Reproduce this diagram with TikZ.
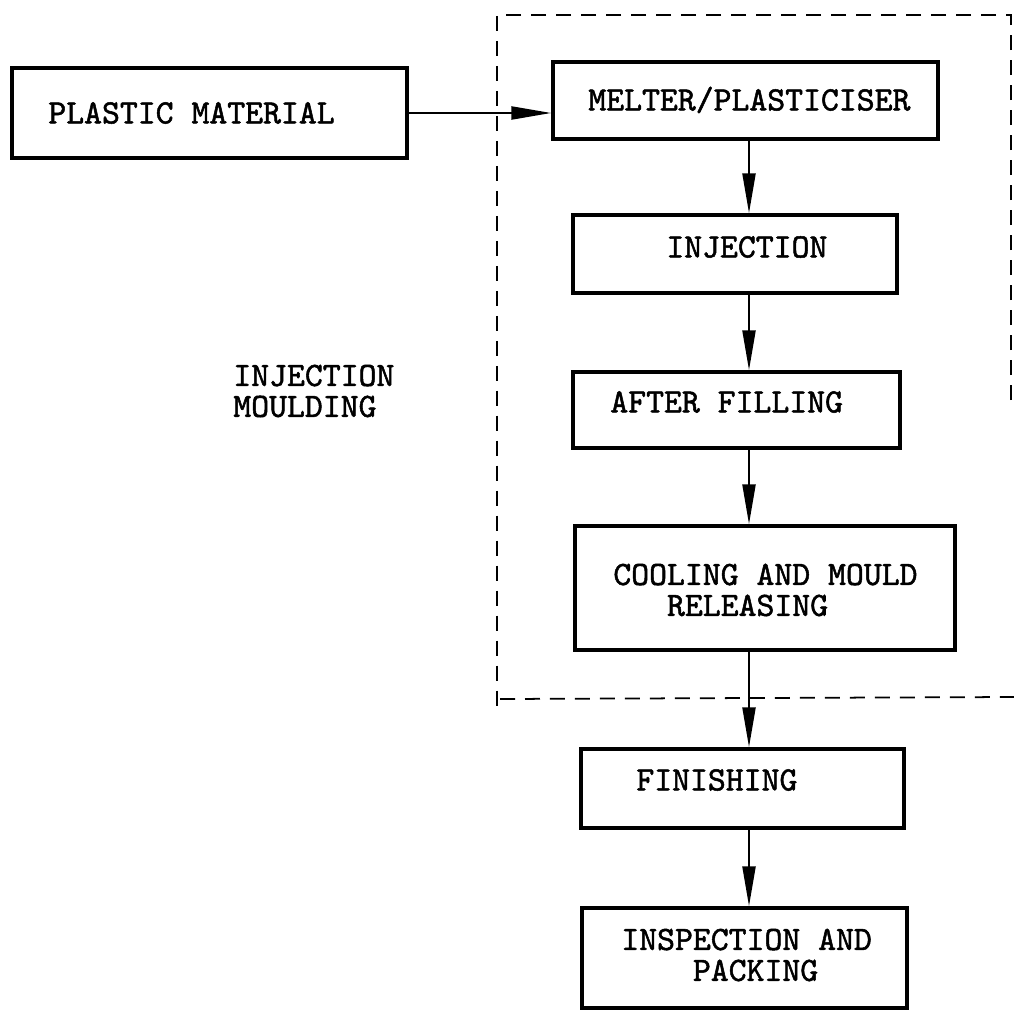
\documentclass[tikz,border=0pt]{standalone}
\usepackage{fontspec}
\setmonofont[FakeBold=1.5]{lmmono10-regular.otf}
\usepackage{tikz}
\usetikzlibrary{arrows.meta}

\begin{document}
\begin{tikzpicture}[x=0.02cm,y=-0.02cm,
		box/.style={draw,line width=2pt,inner sep=0pt},
		txt/.style={anchor=west,align=left,inner sep=0pt,font=\ttfamily\fontsize{19.4}{17.6}\selectfont},
		flow/.style={line width=1.3pt,-{Triangle[length=0.8cm,width=0.26cm]}},
		frame/.style={line width=1pt,dash pattern=on 0.3cm off 0.2cm}]
			\useasboundingbox (0,0) rectangle (1014,1010);
			\coordinate (spine) at (749,0);
			\node [box,minimum width=7.9cm,minimum height=1.8cm] (plastic) at (209.5,113) {};
			\node [box,minimum width=7.7cm,minimum height=1.54cm] (melter) at (745.5,100.5) {};
			\node [box,minimum width=6.48cm,minimum height=1.56cm] (injection) at (735,254) {};
			\node [box,minimum width=6.54cm,minimum height=1.52cm] (afterfill) at (736.5,410) {};
			\node [box,minimum width=7.6cm,minimum height=2.48cm] (cooling) at (765,588) {};
			\node [box,minimum width=6.46cm,minimum height=1.58cm] (finishing) at (742.5,788.5) {};
			\node [box,minimum width=6.5cm,minimum height=2.0cm] (inspection) at (744.5,958) {};
			\node [txt] (tplastic) at (48,113) {PLASTIC MATERIAL};
			\node [txt] (tmelter) at (588,100) {MELTER/PLASTICISER};
			\node [txt] (tinjection) at (666,247) {INJECTION};
			\node [txt] (tafterfill) at (610,402) {AFTER FILLING};
			\node [txt] (tcooling) at (613,590) {COOLING AND MOULD\\~~~RELEASING};
			\node [txt] (tfinishing) at (636,780) {FINISHING};
			\node [txt] (tinspection) at (621,955) {INSPECTION AND\\~~~~PACKING};
			\node [txt] (tmoulding) at (233,391) {INJECTION\\MOULDING};
			% dashed frame round the moulding steps
			\draw [frame] (1011,400) -- (1011,15) -- (497,15) -- (497,712);
			\draw [frame] (500,699) -- (1014,697);
			\draw [flow] (plastic.east) -- (plastic.east -| melter.west);
			\draw [flow] (melter.south -| spine) -- (injection.north -| spine);
			\draw [flow] (injection.south -| spine) -- (afterfill.north -| spine);
			\draw [flow] (afterfill.south -| spine) -- (cooling.north -| spine);
			\draw [flow] (cooling.south -| spine) -- (finishing.north -| spine);
			\draw [flow] (finishing.south -| spine) -- (inspection.north -| spine);
		\end{tikzpicture}
\end{document}
